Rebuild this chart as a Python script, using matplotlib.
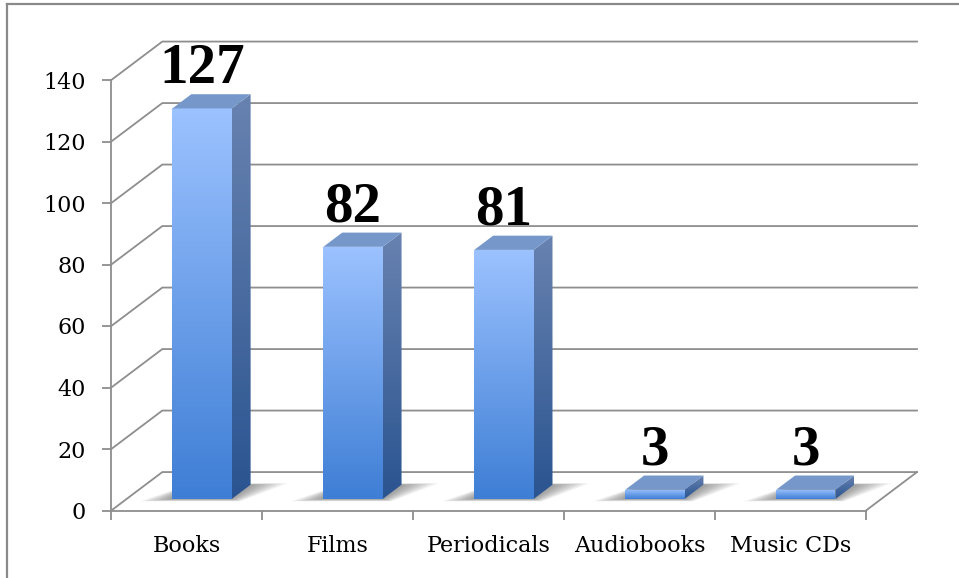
import numpy as np
import matplotlib.pyplot as plt
from matplotlib.patches import Polygon
from matplotlib.colors import LinearSegmentedColormap
from matplotlib.lines import Line2D

# data
categories = ['Books', 'Films', 'Periodicals', 'Audiobooks', 'Music CDs']
counts = [127, 82, 81, 3, 3]
yticks = [0, 20, 40, 60, 80, 100, 120, 140]

# fake 3d look: depth offset of the back wall in data units
DX = 0.338
DY = 12.5
F0, F1 = 0.30, 0.67   # depth range of the bars
BW = 0.393            # bar width (fraction of a category)

grid_col = '#8E8E8E'
front_cmap = LinearSegmentedColormap.from_list('front', ['#3E7ED5', '#9CC2FF'])
side_cmap = LinearSegmentedColormap.from_list('side', ['#2A5490', '#6882B0'])
top_col = '#7597CA'


def P(x, y, d):
    return (x + d * DX, y + d * DY)


fig = plt.figure(figsize=(9.59, 5.78), dpi=100)
ax = fig.add_axes([111.3 / 959, 67.5 / 578, 754.7 / 959, 430.5 / 578])
ax.set_xlim(0, 5)
ax.set_ylim(0, 140)

# walls / gridlines
for v in yticks:
    a, b = P(0, v, 0), P(0, v, 1)
    c = P(5, v, 1)
    ax.plot([a[0], b[0], c[0]], [a[1], b[1], c[1]], color=grid_col, lw=1.3,
            clip_on=False, zorder=1)
a, b = P(5, 0, 0), P(5, 0, 1)
ax.plot([a[0], b[0]], [a[1], b[1]], color=grid_col, lw=1.3, clip_on=False, zorder=1)

grad = np.linspace(0, 1, 256).reshape(-1, 1)

for i, v in enumerate(counts):
    x0 = i + 0.5 - BW / 2
    x1 = i + 0.5 + BW / 2

    # soft floor shadow
    for k in range(7):
        e = 0.011 * (7 - k)
        pts = [P(x0 - e * 2.5, 0, F0 - e * 0.8), P(x1 + e, 0, F0 - e * 0.8),
               P(x1 + e * 3.0, 0, F1 + e * 0.5), P(x0, 0, F1 + e * 0.5)]
        ax.add_patch(Polygon(pts, closed=True, facecolor='#000000', alpha=0.06,
                             edgecolor='none', zorder=2, clip_on=False))

    # front face
    fx0, fy0 = P(x0, 0, F0)
    fx1, fy1 = P(x1, v, F0)
    front = Polygon([(fx0, fy0), (fx1, fy0), (fx1, fy1), (fx0, fy1)],
                    closed=True, facecolor='none', edgecolor='none')
    ax.add_patch(front)
    im = ax.imshow(grad, cmap=front_cmap, origin='lower', aspect='auto',
                   extent=[fx0, fx1, fy0, fy1], zorder=3)
    im.set_clip_path(front)

    # side face
    s = [P(x1, 0, F0), P(x1, 0, F1), P(x1, v, F1), P(x1, v, F0)]
    side = Polygon(s, closed=True, facecolor='none', edgecolor='none')
    ax.add_patch(side)
    im = ax.imshow(grad, cmap=side_cmap, origin='lower', aspect='auto',
                   extent=[s[0][0], s[1][0], s[0][1], s[2][1]], zorder=3)
    im.set_clip_path(side)

    # top face
    t = [P(x0, v, F0), P(x1, v, F0), P(x1, v, F1), P(x0, v, F1)]
    ax.add_patch(Polygon(t, closed=True, facecolor=top_col, edgecolor='none',
                         zorder=4, clip_on=False))

    # value label
    lx, _ = P(i + 0.5, v, F0)
    _, ly = P(i + 0.5, v, F1)
    ax.annotate(str(v), xy=(lx, ly), xytext=(0, 8), textcoords='offset points',
                ha='center', va='baseline', fontsize=41, fontweight='bold',
                family='Liberation Serif', color='black', annotation_clip=False)

ax.set_xlim(0, 5)
ax.set_ylim(0, 140)

# axes styling
for sp in ['top', 'right']:
    ax.spines[sp].set_visible(False)
for sp in ['left', 'bottom']:
    ax.spines[sp].set_color(grid_col)
    ax.spines[sp].set_linewidth(1.3)
    ax.spines[sp].set_zorder(1)

ax.set_yticks(yticks)
ax.set_yticklabels([str(t) for t in yticks], family='DejaVu Serif', fontsize=16)
ax.tick_params(axis='y', direction='out', length=6.5, width=1.3, color=grid_col, pad=12)

ax.set_xticks(np.arange(len(categories)) + 0.5)
ax.set_xticklabels(categories, family='DejaVu Serif', fontsize=16)
ax.set_xticks(np.arange(len(categories) + 1), minor=True)
ax.tick_params(axis='x', which='major', length=0, pad=18)
ax.tick_params(axis='x', which='minor', direction='out', length=6.5, width=1.3, color=grid_col)
ax.patch.set_visible(False)

# outer frame (left and top edges)
fig.add_artist(Line2D([7 / 959, 7 / 959], [0, 1 - 4 / 578], color='#8A8A8A', lw=1.6))
fig.add_artist(Line2D([7 / 959, 1], [1 - 4 / 578, 1 - 4 / 578], color='#8A8A8A', lw=1.6))

fig.savefig('out.png', dpi=100)
